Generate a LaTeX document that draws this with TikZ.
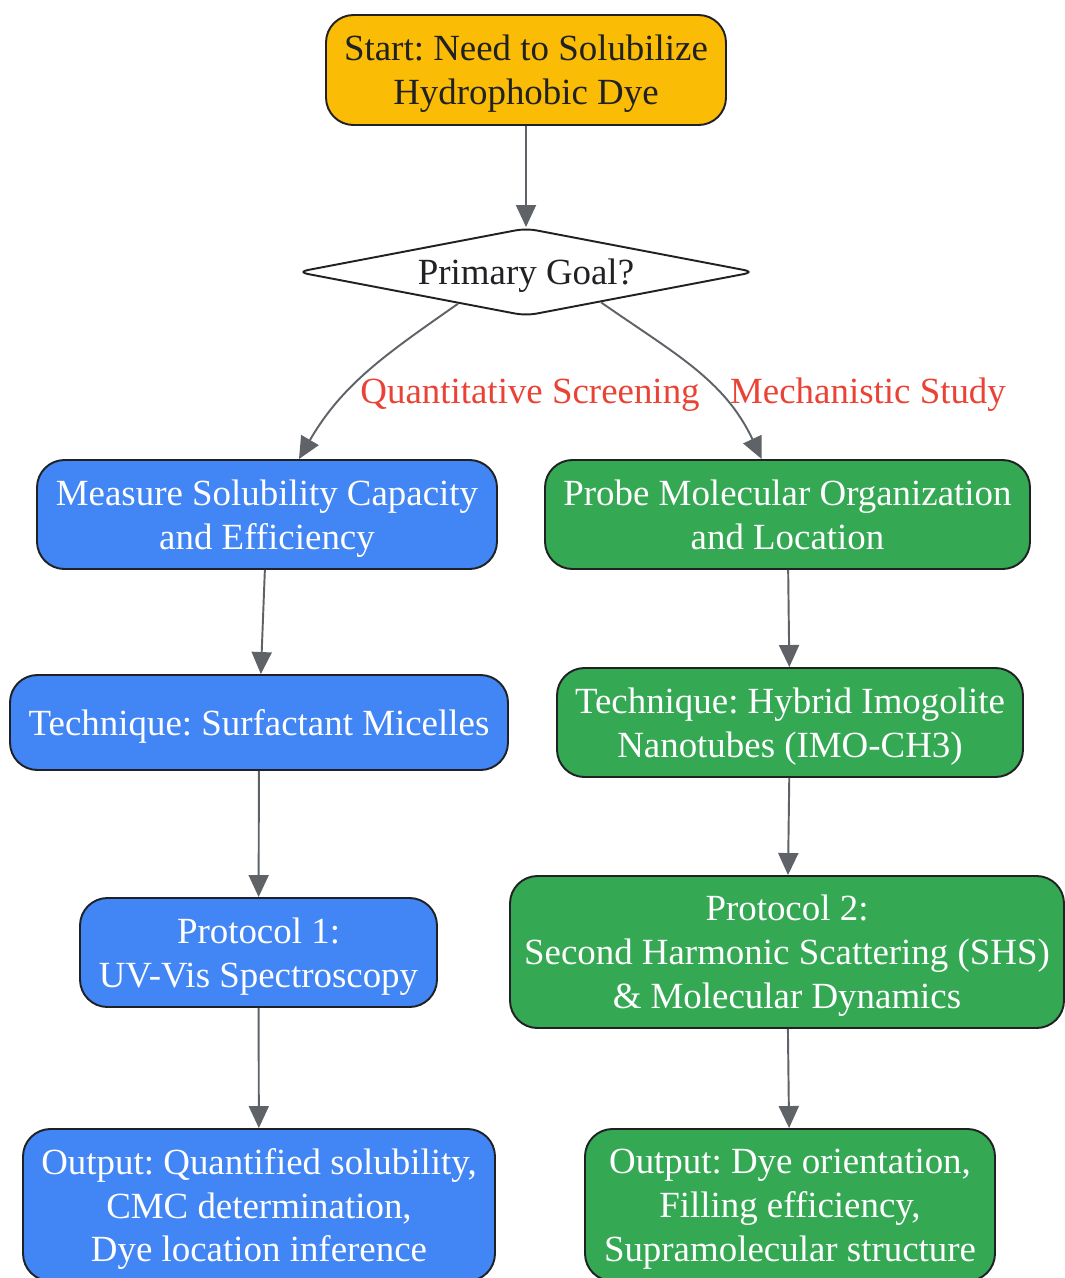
\documentclass[tikz,border=0pt]{standalone}
\usepackage{fontspec}
\setmainfont{Liberation Serif}
\frenchspacing
\usetikzlibrary{shapes.geometric,arrows.meta}
\definecolor{gyellow}{HTML}{FBBC05}
\definecolor{gblue}{HTML}{4285F4}
\definecolor{ggreen}{HTML}{34A853}
\definecolor{gred}{HTML}{EA4335}
\definecolor{ggray}{HTML}{5F6368}
\definecolor{gdark}{HTML}{202124}
\tikzset{
box/.style={draw=gdark, line width=1.1pt, rounded corners=0.55cm, align=center, inner sep=0pt, text depth=0pt, font=\fontsize{21}{25}\selectfont},
startbox/.style={box, fill=gyellow, text=gdark},
bluebox/.style={box, fill=gblue, text=white},
greenbox/.style={box, fill=ggreen, text=white},
decision/.style={diamond, draw=gdark, line width=1.1pt, fill=white, aspect=5.2, inner sep=1pt, rounded corners=6pt, text depth=0pt, text=gdark, font=\fontsize{21}{25}\selectfont},
flow/.style={draw=ggray, line width=1.1pt, -{Triangle[length=0.44cm,width=0.4cm]}},
elabel/.style={text=gred, text depth=0pt, font=\fontsize{21}{25}\selectfont}
}

\begin{document}
\begin{tikzpicture}
\useasboundingbox[fill=white] (0,0) rectangle (21.3,-25.56);
\node[startbox, minimum width=8cm, minimum height=2.2cm] at (10.52,-1.4) (start) {Start: Need to Solubilize\\Hydrophobic Dye};
\node[decision, minimum width=9.16cm, minimum height=1.76cm] at (10.52,-5.44) (goal) {Primary Goal?};
\node[bluebox, minimum width=9.2cm, minimum height=2.18cm] at (5.34,-10.29) (measure) {Measure Solubility Capacity\\and Efficiency};
\node[greenbox, minimum width=9.7cm, minimum height=2.18cm] at (15.75,-10.29) (probe) {Probe Molecular Organization\\and Location};
\node[bluebox, minimum width=9.96cm, minimum height=1.9cm] at (5.18,-14.45) (micelles) {Technique: Surfactant Micelles};
\node[greenbox, minimum width=9.32cm, minimum height=2.18cm] at (15.8,-14.45) (imogolite) {Technique: Hybrid Imogolite\\Nanotubes (IMO-CH3)};
\node[bluebox, minimum width=7.14cm, minimum height=2.18cm] at (5.17,-19.05) (uvvis) {Protocol 1:\\UV-Vis Spectroscopy};
\node[greenbox, minimum width=11.08cm, minimum height=3.04cm] at (15.74,-19.04) (shs) {Protocol 2:\\Second Harmonic Scattering (SHS)\\\& Molecular Dynamics};
\node[bluebox, minimum width=9.44cm, minimum height=3.04cm] at (5.18,-24.1) (outblue) {Output: Quantified solubility,\\CMC determination,\\Dye location inference};
\node[greenbox, minimum width=8.2cm, minimum height=3.04cm] at (15.8,-24.1) (outgreen) {Output: Dye orientation,\\Filling efficiency,\\Supramolecular structure};
\draw[flow] (start) -- (goal);
\draw[flow] (goal.-155) to[out=-145,in=60] (measure);
\draw[flow] (goal.-22) to[out=-35,in=115] (probe);
\node[elabel] at (10.6,-7.82) (lquant) {Quantitative Screening};
\node[elabel] at (17.36,-7.82) (lmech) {Mechanistic Study};
\draw[flow] (measure) -- (micelles);
\draw[flow] (probe) -- (imogolite);
\draw[flow] (micelles) -- (uvvis);
\draw[flow] (imogolite) -- (shs);
\draw[flow] (uvvis) -- (outblue);
\draw[flow] (shs) -- (outgreen);
\end{tikzpicture}
\end{document}
